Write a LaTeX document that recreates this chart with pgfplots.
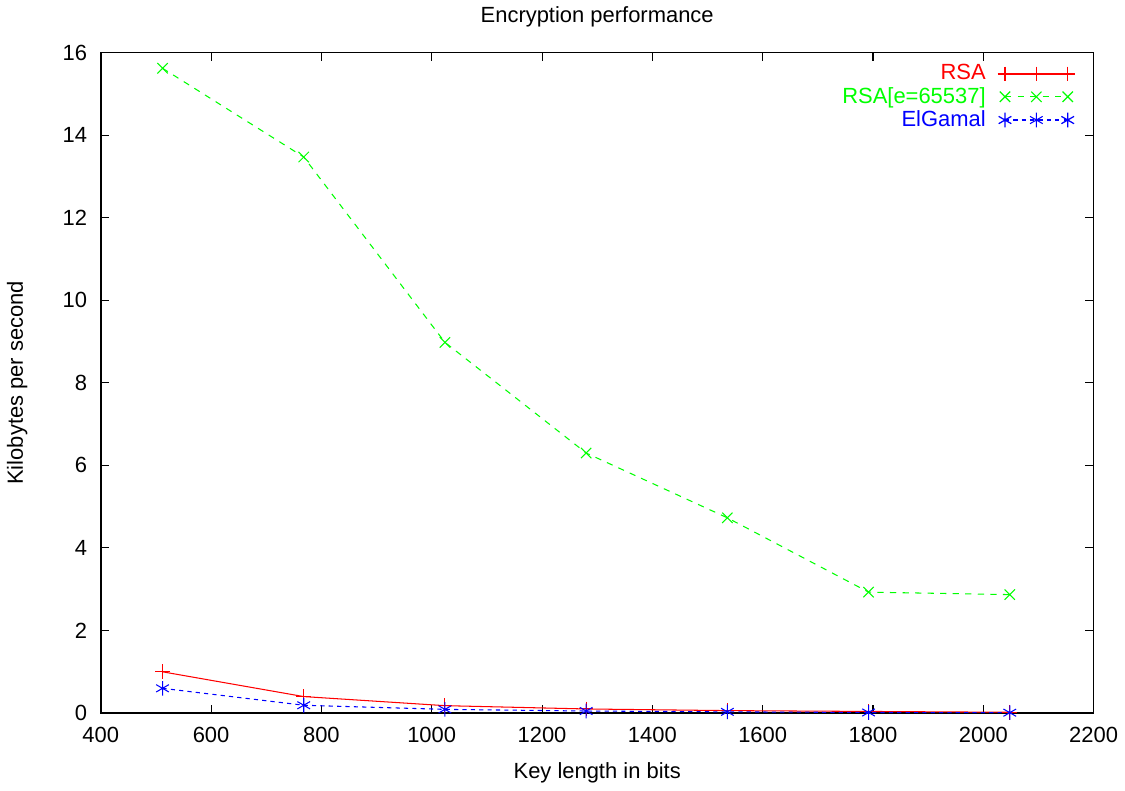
\documentclass[border=0pt]{standalone}
\usepackage{fontspec}
\setmainfont{Liberation Sans}
\usepackage{pgfplots}
\pgfplotsset{compat=1.18}
\pgfplotsset{
  legimg/.style={legend image code/.code={
    \path (0pt,0pt);
    \color{#1}
    \draw[#1, line width=0.6pt] plot coordinates {(7pt,0pt) (37pt,0pt)};
    \draw[#1, only marks] plot coordinates {(22pt,0pt)};
  }},
}
\newcommand{\fc}[2]{{\addfontfeature{Color=#1}#2}}
\begin{document}
\begin{tikzpicture}
\begin{axis}[
  scale only axis,
  width=475pt, height=316pt,
  xmin=400, xmax=2200, ymin=0, ymax=16,
  xtick={400,600,...,2200}, ytick={0,2,...,16},
  /pgf/number format/assume math mode=true,
  /pgf/number format/set thousands separator={},
  tick label style={font=\fontsize{10.5}{12}\selectfont},
  label style={font=\fontsize{10.5}{12}\selectfont},
  title style={font=\fontsize{10.5}{12}\selectfont, yshift=2.5pt},
  xticklabel style={yshift=-3pt},
  yticklabel style={xshift=-3pt},
  title={Encryption performance},
  xlabel={Key length in bits},
  ylabel={Kilobytes per second},
  xlabel style={yshift=-3pt},
  ylabel style={yshift=10pt},
  major tick length=4pt,
  axis line style={line width=0.8pt},
  every tick/.style={black, line width=0.5pt},
  legend style={at={(0.988,0.995)}, anchor=north east, draw=none, fill=none,
    font=\fontsize{10.5}{11}\selectfont, row sep=-2pt},
  legend cell align=right,
  legend plot pos=right,
]
\addplot[red, line width=0.5pt, mark=+, mark size=3.5pt, mark options={solid}, legimg=red] coordinates {
  (512,1.0) (768,0.40) (1024,0.18) (1280,0.10) (1536,0.06) (1792,0.04) (2048,0.02)
};
\addlegendentry{\fc{FF0000}{RSA}}
\addplot[green, line width=0.5pt, dashed, mark=x, mark size=3.5pt, mark options={solid}, legimg=green] coordinates {
  (512,15.62) (768,13.47) (1024,8.98) (1280,6.30) (1536,4.73) (1792,2.93) (2048,2.87)
};
\addlegendentry{\fc{00FF00}{RSA[e=65537]}}
\addplot[blue, line width=0.5pt, dash pattern=on 2pt off 2pt, mark=asterisk, mark size=3.5pt, mark options={solid}, legimg=blue] coordinates {
  (512,0.60) (768,0.19) (1024,0.09) (1280,0.05) (1536,0.03) (1792,0.015) (2048,0.01)
};
\addlegendentry{\fc{0000FF}{ElGamal}}
\end{axis}
\end{tikzpicture}
\end{document}
